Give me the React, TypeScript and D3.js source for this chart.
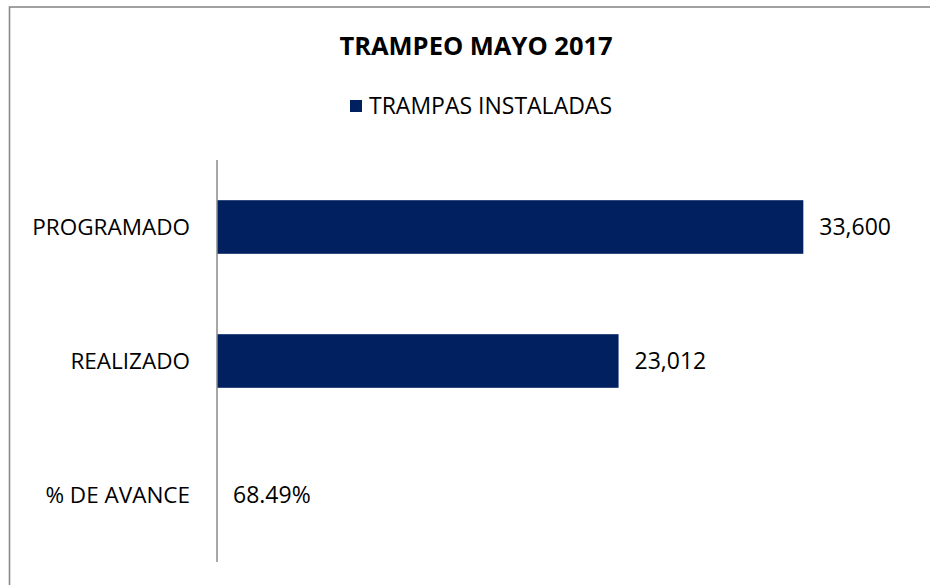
import { useEffect, useRef } from 'react';
import * as d3 from 'd3';

// chart data
const categories = ['PROGRAMADO', 'REALIZADO', '% DE AVANCE'];
const values = [33600, 23012, 0.6849];
const labelFormats = [',', ',', '.2%'];
const seriesName = 'TRAMPAS INSTALADAS';
const chartTitle = 'TRAMPEO MAYO 2017';

const App = () => {
    const svgRef = useRef<SVGSVGElement | null>(null);

    useEffect(() => {
        const width = 930;
        const height = 585;
        const font = '"Open Sans", "Noto Sans", sans-serif';
        const barColor = '#002060';

        const svg = d3.select(svgRef.current)
            .attr('width', width)
            .attr('height', height);

        svg.selectAll('*').remove();

        // chart frame (cropped on the right and bottom)
        svg.append('rect')
            .attr('x', 9.5)
            .attr('y', 7)
            .attr('width', 960)
            .attr('height', 620)
            .style('fill', 'white')
            .style('stroke', '#8a8a8a')
            .style('stroke-width', 1.6);

        svg.append('text')
            .attr('x', 476)
            .attr('y', 55)
            .attr('text-anchor', 'middle')
            .style('font-family', font)
            .style('font-size', '25.5px')
            .style('font-weight', 'bold')
            .style('fill', '#000')
            .text(chartTitle);

        // legend
        const legend = svg.append('g').attr('transform', 'translate(350, 100)');
        legend.append('rect')
            .attr('width', 12)
            .attr('height', 12)
            .style('fill', barColor);
        legend.append('text')
            .attr('x', 19)
            .attr('y', 13.5)
            .style('font-family', font)
            .style('font-size', '23px')
            .style('fill', '#000')
            .text(seriesName);

        const xScale = d3.scaleLinear()
            .domain([0, 40000])
            .range([217, 915]);

        const yScale = d3.scaleBand<string>()
            .domain(categories)
            .range([160, 562])
            .paddingInner(0.6)
            .paddingOuter(0.3);

        const rows = categories.map((c, i) => ({ cat: c, value: values[i], fmt: labelFormats[i] }));

        // bars
        svg.selectAll('.bar')
            .data(rows)
            .enter()
            .append('rect')
            .attr('class', 'bar')
            .attr('x', xScale(0))
            .attr('y', d => yScale(d.cat) as number)
            .attr('width', d => xScale(d.value) - xScale(0))
            .attr('height', yScale.bandwidth())
            .style('fill', barColor);

        // value labels
        svg.selectAll('.value-label')
            .data(rows)
            .enter()
            .append('text')
            .attr('class', 'value-label')
            .attr('x', d => xScale(d.value) + 16)
            .attr('y', d => (yScale(d.cat) as number) + yScale.bandwidth() / 2)
            .attr('dy', '0.36em')
            .style('font-family', font)
            .style('font-size', '23px')
            .style('fill', '#000')
            .text(d => d3.format(d.fmt)(d.value));

        // category axis
        const axis = svg.append('g')
            .attr('transform', `translate(${xScale(0)}, 0)`)
            .call(d3.axisLeft(yScale).tickSize(0).tickPadding(27));
        axis.select('.domain')
            .attr('d', `M0,${yScale.range()[0]}V${yScale.range()[1]}`)
            .style('stroke', '#8a8a8a')
            .style('stroke-width', 1.5);
        axis.selectAll('text')
            .attr('dy', '0.36em')
            .style('font-family', font)
            .style('font-size', '22.5px')
            .style('fill', '#000');
    }, []);

    return (
        <svg
            ref={svgRef}
            style={{ position: 'absolute', left: 0, top: 0, display: 'block' }}
        />
    );
};

export default App;
